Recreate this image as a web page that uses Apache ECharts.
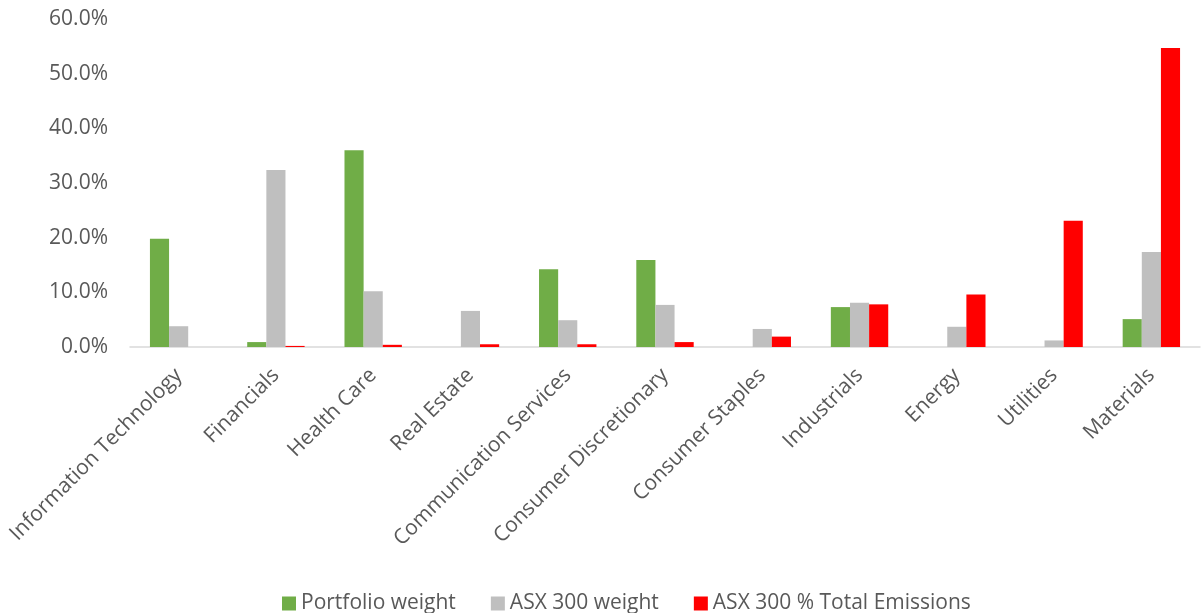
<!DOCTYPE html>
<html>
<head>
<meta charset="utf-8">
<script src="https://cdn.jsdelivr.net/npm/echarts@6/dist/echarts.min.js"></script>
<style>
  html, body { margin: 0; padding: 0; background: #fff; }
  #main { width: 1203px; height: 613px; }
</style>
</head>
<body>
<div id="main"></div>
<script>
// sectors
var categories = ['Information Technology', 'Financials', 'Health Care', 'Real Estate',
  'Communication Services', 'Consumer Discretionary', 'Consumer Staples', 'Industrials',
  'Energy', 'Utilities', 'Materials'];
// weights in %
var portfolioWeight = [19.8, 0.9, 36.0, 0, 14.2, 15.9, 0, 7.3, 0, 0, 5.1];
var asxWeight = [3.8, 32.4, 10.2, 6.6, 4.9, 7.7, 3.3, 8.1, 3.7, 1.2, 17.4];
var asxEmissions = [0, 0.2, 0.4, 0.5, 0.5, 0.9, 1.9, 7.8, 9.6, 23.1, 54.7];

var font = '"Open Sans", sans-serif';

var chart = echarts.init(document.getElementById('main'));
chart.setOption({
  animation: false,
  textStyle: { fontFamily: font },
  grid: { left: 130, right: 3, top: 19, bottom: 266, containLabel: false },
  legend: {
    top: 588,
    left: 277,
    itemWidth: 14,
    itemHeight: 14,
    itemGap: 35,
    icon: 'rect',
    textStyle: { fontSize: 21, color: '#595959', fontFamily: font },
    data: ['Portfolio weight', 'ASX 300 weight', 'ASX 300 % Total Emissions']
  },
  xAxis: {
    type: 'category',
    data: categories,
    axisLine: { lineStyle: { color: '#d9d9d9', width: 1.5 } },
    axisTick: { show: false },
    axisLabel: {
      rotate: 45,
      interval: 0,
      fontSize: 21,
      color: '#595959',
      margin: 25
    }
  },
  yAxis: {
    type: 'value',
    min: 0,
    max: 60,
    interval: 10,
    splitLine: { show: false },
    axisLine: { show: false },
    axisTick: { show: false },
    axisLabel: {
      fontSize: 21,
      color: '#595959',
      margin: 22,
      formatter: function (v) { return v.toFixed(1) + '%'; }
    }
  },
  series: [
    { name: 'Portfolio weight', type: 'bar', data: portfolioWeight, barGap: '0%', barCategoryGap: '41%',
      itemStyle: { color: '#70ad47' } },
    { name: 'ASX 300 weight', type: 'bar', data: asxWeight,
      itemStyle: { color: '#bfbfbf' } },
    { name: 'ASX 300 % Total Emissions', type: 'bar', data: asxEmissions,
      itemStyle: { color: '#ff0000' } }
  ]
});
</script>
</body>
</html>
